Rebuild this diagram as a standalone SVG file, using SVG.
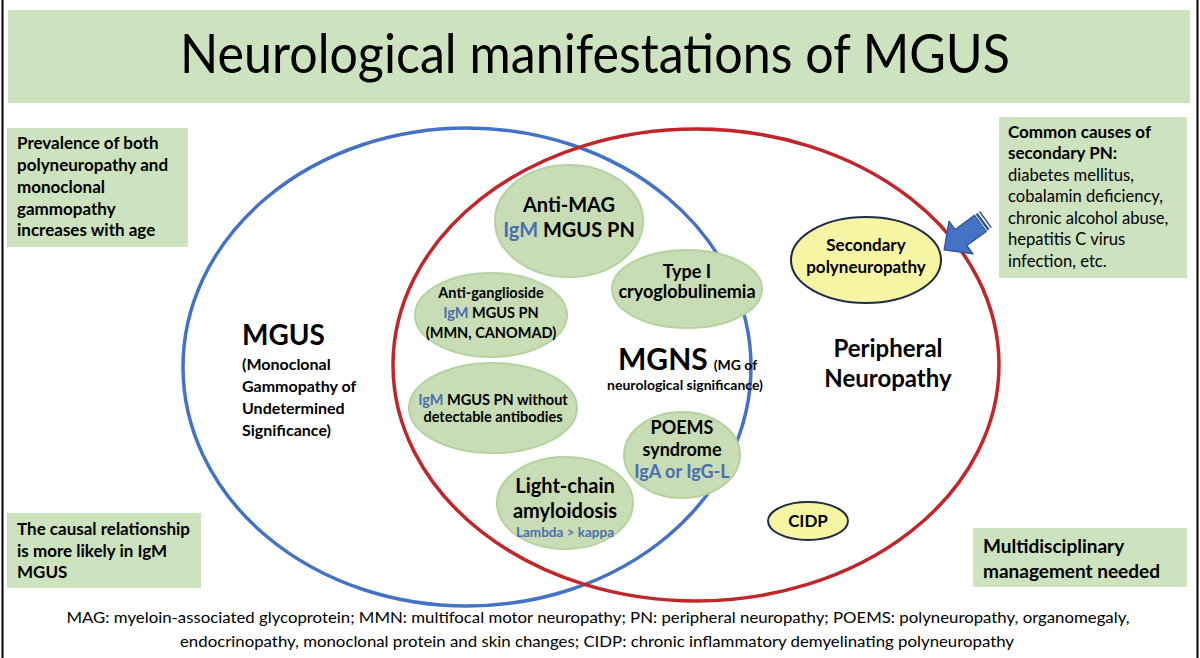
<svg xmlns="http://www.w3.org/2000/svg" width="1200" height="658" viewBox="0 0 1200 658">
<style>
  text { font-family: Lato, "Open Sans", "Liberation Sans", sans-serif; fill: #000; }
  .b { font-weight: bold; }
  .blue { fill: #4a6eb0; }
  .box { fill: #cde2bf; }
  .oval { fill: #c8ddb5; stroke: #b6d2a0; stroke-width: 2; }
  .yel { fill: #f5f5a3; stroke: #1f2a44; stroke-width: 2; }
  .c { text-anchor: middle; }
</style>
<rect width="1200" height="658" fill="#fff"/>
<line x1="2.5" y1="0" x2="2.5" y2="658" stroke="#000" stroke-width="2"/>
<line x1="1197.5" y1="0" x2="1197.5" y2="658" stroke="#000" stroke-width="2"/>

<g id="title">
  <rect class="box" x="8" y="10" width="1182" height="93"/>
  <text x="595" y="73" class="c" font-size="54" textLength="830" lengthAdjust="spacingAndGlyphs">Neurological manifestations of MGUS</text>
</g>

<g id="venn">
  <ellipse id="mgus-circle" cx="467" cy="367" rx="284" ry="239" fill="none" stroke="#4472c4" stroke-width="3.5"/>
  <ellipse id="pn-circle" cx="696" cy="365" rx="303" ry="236" fill="none" stroke="#c0262a" stroke-width="3.5"/>
</g>

<g id="note-prevalence">
  <rect class="box" x="7" y="128" width="181" height="119"/>
  <text class="b" font-size="17" x="17">
    <tspan x="17" y="149">Prevalence of both</tspan>
    <tspan x="17" y="171">polyneuropathy and</tspan>
    <tspan x="17" y="193">monoclonal</tspan>
    <tspan x="17" y="215">gammopathy</tspan>
    <tspan x="17" y="236">increases with age</tspan>
  </text>
</g>

<g id="note-causal">
  <rect class="box" x="7" y="513" width="194" height="75"/>
  <text class="b" font-size="17">
    <tspan x="17" y="535">The causal relationship</tspan>
    <tspan x="17" y="557">is more likely in IgM</tspan>
    <tspan x="17" y="578">MGUS</tspan>
  </text>
</g>

<g id="note-causes">
  <rect class="box" x="999" y="117" width="188" height="161"/>
  <text>
    <tspan class="b" font-size="17" x="1008" y="138">Common causes of</tspan>
    <tspan class="b" font-size="17" x="1008" y="159">secondary PN:</tspan>
    <tspan font-size="16.6" x="1008" y="181">diabetes mellitus,</tspan>
    <tspan font-size="16.6" x="1008" y="202">cobalamin deficiency,</tspan>
    <tspan font-size="16.6" x="1008" y="224">chronic alcohol abuse,</tspan>
    <tspan font-size="16.6" x="1008" y="245">hepatitis C virus</tspan>
    <tspan font-size="16.6" x="1008" y="267">infection, etc.</tspan>
  </text>
</g>

<g id="note-multi">
  <rect class="box" x="973" y="528" width="214" height="59"/>
  <text class="b" font-size="19">
    <tspan x="983" y="553">Multidisciplinary</tspan>
    <tspan x="983" y="578">management needed</tspan>
  </text>
</g>

<g id="label-mgus">
  <text class="b" font-size="28" x="242" y="345">MGUS</text>
  <text class="b" font-size="16">
    <tspan x="242" y="370">(Monoclonal</tspan>
    <tspan x="242" y="392">Gammopathy of</tspan>
    <tspan x="242" y="414">Undetermined</tspan>
    <tspan x="242" y="436">Significance)</tspan>
  </text>
</g>

<g id="label-pn">
  <text class="b c" font-size="24" x="888" y="357">Peripheral</text>
  <text class="b c" font-size="24" x="888" y="387">Neuropathy</text>
</g>

<g id="label-mgns">
  <text class="b" x="618" y="370"><tspan font-size="30">MGNS</tspan><tspan font-size="14" dx="6">(MG of</tspan></text>
  <text class="b c" font-size="14" x="685" y="390">neurological significance)</text>
</g>

<g id="node-antimag">
  <ellipse class="oval" cx="569" cy="221" rx="74" ry="56"/>
  <text class="b c" font-size="20" x="569" y="212">Anti-MAG</text>
  <text class="b c" font-size="20" x="569" y="237"><tspan class="blue">IgM</tspan> MGUS PN</text>
</g>

<g id="node-cryo">
  <ellipse class="oval" cx="687" cy="289" rx="75" ry="39"/>
  <text class="b c" font-size="18" x="687" y="278">Type I</text>
  <text class="b c" font-size="18" x="687" y="298">cryoglobulinemia</text>
</g>

<g id="node-antigang">
  <ellipse class="oval" cx="491" cy="315" rx="76" ry="42"/>
  <text class="b c" font-size="14.5" x="491" y="298">Anti-ganglioside</text>
  <text class="b c" font-size="14.5" x="491" y="318"><tspan class="blue">IgM</tspan> MGUS PN</text>
  <text class="b c" font-size="14.5" x="491" y="338">(MMN, CANOMAD)</text>
</g>

<g id="node-igm-noab">
  <ellipse class="oval" cx="493" cy="408" rx="84" ry="45"/>
  <text class="b c" font-size="14.5" x="493" y="405"><tspan class="blue">IgM</tspan> MGUS PN without</text>
  <text class="b c" font-size="14.5" x="493" y="422">detectable antibodies</text>
</g>

<g id="node-poems">
  <ellipse class="oval" cx="682" cy="455" rx="58" ry="43"/>
  <text class="b c" font-size="18" x="682" y="434">POEMS</text>
  <text class="b c" font-size="18" x="682" y="456">syndrome</text>
  <text class="b c blue" font-size="18" x="682" y="478">IgA or IgG-L</text>
</g>

<g id="node-amyloid">
  <ellipse class="oval" cx="565" cy="503" rx="68" ry="46"/>
  <text class="b c" font-size="20" x="565" y="493">Light-chain</text>
  <text class="b c" font-size="20" x="565" y="518">amyloidosis</text>
  <text class="b c blue" font-size="13.5" x="565" y="537">Lambda &gt; kappa</text>
</g>

<g id="node-secondary">
  <ellipse class="yel" cx="866" cy="260" rx="75" ry="43"/>
  <text class="b c" font-size="17" x="866" y="251">Secondary</text>
  <text class="b c" font-size="17" x="866" y="273">polyneuropathy</text>
</g>

<g id="node-cidp">
  <ellipse class="yel" cx="808" cy="521" rx="40" ry="19"/>
  <text class="b c" font-size="17" x="808" y="527">CIDP</text>
</g>

<g id="connectors">
  <polygon points="944.1,249.9 949,221.1 955.1,229.4 974.4,215.2 986.3,231.4 966.9,245.6 973.1,253.9" fill="#4472c4" stroke="#2f528f" stroke-width="1.2" stroke-linejoin="round"/>
  <polygon points="975.6,214.3 977.7,212.9 989.5,229 987.5,230.5" fill="#2f528f"/>
  <polygon points="978.9,212 980.1,211.1 991.9,227.2 990.7,228.1" fill="#2f528f"/>
</g>

<g id="footer">
  <text font-size="16" x="598" y="623" class="c" textLength="1063" lengthAdjust="spacingAndGlyphs">MAG: myeloin-associated glycoprotein; MMN: multifocal motor neuropathy; PN: peripheral neuropathy; POEMS: polyneuropathy, organomegaly,</text>
  <text font-size="16" x="597" y="647" class="c" textLength="834" lengthAdjust="spacingAndGlyphs">endocrinopathy, monoclonal protein and skin changes; CIDP: chronic inflammatory demyelinating polyneuropathy</text>
</g>
</svg>
